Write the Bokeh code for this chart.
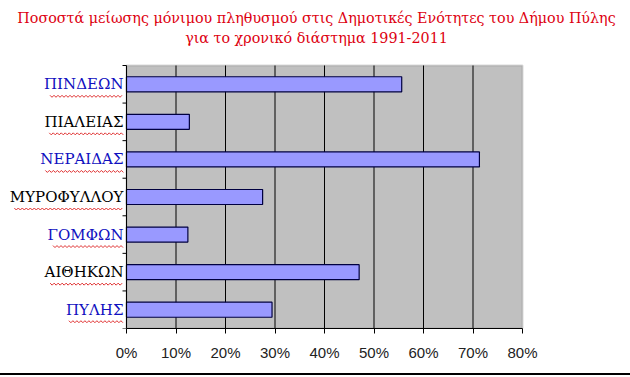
from bokeh.plotting import figure
from bokeh.models import (ColumnDataSource, Label, Range1d, FixedTicker,
                          NumeralTickFormatter, Div, BoxAnnotation)
from bokeh.core.properties import value
from bokeh.layouts import column
from bokeh.embed import file_html
from bokeh.resources import INLINE

categories = ["ΠΥΛΗΣ", "ΑΙΘΗΚΩΝ", "ΓΟΜΦΩΝ", "ΜΥΡΟΦΥΛΛΟΥ", "ΝΕΡΑΙΔΑΣ", "ΠΙΑΛΕΙΑΣ", "ΠΙΝΔΕΩΝ"]
values = [0.294, 0.470, 0.124, 0.275, 0.713, 0.127, 0.556]
label_colors = ["#1010c0", "#000000", "#1010c0", "#000000", "#1010c0", "#000000", "#1010c0"]
x_ticks = [0.0, 0.1, 0.2, 0.3, 0.4, 0.5, 0.6, 0.7, 0.8]
title_lines = ["Ποσοστά μείωσης μόνιμου πληθυσμού στις Δημοτικές Ενότητες του Δήμου Πύλης",
               "για το χρονικό διάστημα 1991-2011"]

# ---- layout constants (pixels) ----
W, H = 630, 373
FRAME_BOTTOM = 328          # pixel row of the category axis bottom
PLOT_LEFT, PLOT_RIGHT, PLOT_TOP = 126, 522, 65
SERIF = "DejaVu Serif"
LABEL_PX = 15

n = len(categories)
xmax = x_ticks[-1]
px_x = (PLOT_RIGHT - PLOT_LEFT) / xmax          # pixels per data unit (x)
px_y = (FRAME_BOTTOM - PLOT_TOP) / n            # pixels per category
x_start = -PLOT_LEFT / px_x
x_end = xmax + (W - PLOT_RIGHT) / px_x
y_end = n + PLOT_TOP / px_y

pos = [i + 0.5 for i in range(n)]
src = ColumnDataSource(dict(y=pos, v=values, name=categories, col=label_colors,
                            zero=[0.0] * n))

p = figure(width=W, height=H, output_backend="svg", toolbar_location=None,
           title=None, y_axis_location=None,
           x_range=Range1d(x_start, x_end), y_range=Range1d(0, y_end),
           min_border_left=0, min_border_right=0, min_border_top=0,
           min_border_bottom=H - FRAME_BOTTOM)
p.outline_line_color = None
p.background_fill_color = "white"
p.border_fill_color = "white"
p.grid.grid_line_color = None

# plot area background
p.add_layout(BoxAnnotation(left=x_ticks[0], right=xmax, bottom=0, top=n,
                           fill_color="#c0c0c0", fill_alpha=1.0,
                           line_color="#808080", line_width=2, level="underlay"))

# vertical gridlines
inner = x_ticks[1:-1]
p.segment(x0=inner, y0=[0] * len(inner), x1=inner, y1=[n] * len(inner),
          line_color="black", line_width=1)

# bars
p.hbar(y="y", left=0, right="v", height=0.4, source=src,
       fill_color="#9999ff", line_color="#000040", line_width=1.2)

# category axis line and boundary ticks
tick_len = 4 / px_x
bounds = list(range(n + 1))
p.segment(x0=[0], y0=[0], x1=[0], y1=[n], line_color="black", line_width=1)
p.segment(x0=[-tick_len] * len(bounds), y0=bounds, x1=[0] * len(bounds), y1=bounds,
          line_color="black", line_width=1)

# category labels
p.text(x="zero", y="y", text="name", source=src, x_offset=-3,
       text_align="right", text_baseline="middle",
       text_font=value(SERIF), text_font_size=value(f"{LABEL_PX}px"), text_color="col")

# red wavy spell-check underline under each label (decoration)
cw = {"Α": .68, "Β": .69, "Γ": .64, "Δ": .70, "Ε": .67, "Η": .80, "Θ": .77,
      "Ι": .37, "Κ": .70, "Λ": .70, "Μ": .92, "Ν": .79, "Ο": .77, "Π": .80,
      "Ρ": .64, "Σ": .68, "Υ": .66, "Φ": .80, "Ω": .78}
wx, wy = [], []
for name, yc in zip(categories, pos):
    wpx = sum(cw.get(c, .7) for c in name) * LABEL_PX
    xs, ys = [], []
    k = 0
    xp = 3 + wpx
    while xp >= 3:
        xs.append(-xp / px_x)
        ys.append(yc - (12 + (1 if k % 2 else -1)) / px_y)
        xp -= 2
        k += 1
    wx.append(xs)
    wy.append(ys)
p.multi_line(xs=wx, ys=wy, line_color="#e03030", line_width=1)

# x axis
p.xaxis.bounds = (x_ticks[0], xmax)
p.xaxis.ticker = FixedTicker(ticks=x_ticks)
p.xaxis.formatter = NumeralTickFormatter(format="0%")
p.xaxis.major_label_text_font = "Liberation Sans"
p.xaxis.major_label_text_font_size = "15px"
p.xaxis.major_label_text_color = "#222222"
p.xaxis.major_label_standoff = 10
p.xaxis.major_tick_out = 5
p.xaxis.major_tick_in = 0
p.xaxis.minor_tick_line_color = None
p.xaxis.axis_line_color = "black"
p.xaxis.major_tick_line_color = "black"

# title (screen units measured from frame bottom-left)
for txt, ytop in zip(title_lines, [17, 37]):
    p.add_layout(Label(x=316, y=FRAME_BOTTOM - ytop, x_units="screen", y_units="screen",
                       text=txt, text_align="center", text_baseline="middle",
                       text_font=SERIF, text_font_size="14.3px", text_color="#dd0010"))

line = Div(width=W, height=2, margin=0, styles={"background-color": "black"})
layout = column(p, line, spacing=0)

open("out.html", "w").write(file_html(layout, INLINE))
